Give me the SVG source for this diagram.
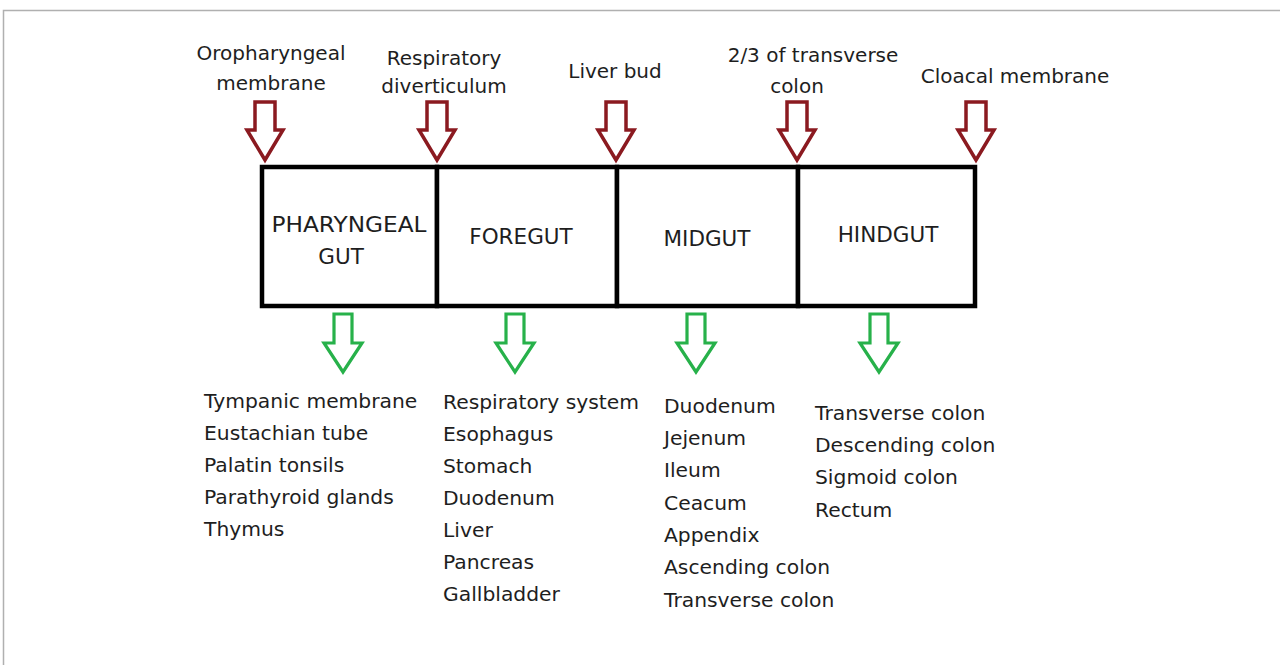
<svg xmlns="http://www.w3.org/2000/svg" width="1280" height="665" viewBox="0 0 1280 665">
<defs>
<style>
text{font-family:"DejaVu Sans","Liberation Sans",sans-serif;fill:#1e1e1e;}
.lbl{font-size:20.3px;}
.top{font-size:20px;text-anchor:middle;}
.seg{font-size:21.5px;text-anchor:middle;}
.box{fill:#fff;stroke:#000;stroke-width:4.5;}
.red{fill:#fff;stroke:#8b1a20;stroke-width:3.5;stroke-linejoin:miter;}
.green{fill:#fff;stroke:#27b14a;stroke-width:3.2;stroke-linejoin:miter;}
</style>
<path id="ra" d="M -10,0 H 10 V 28 H 18 L 0,58 L -18,28 H -10 Z"/>
<path id="ga" d="M -9,0 H 9 V 29 H 19 L 0,58 L -19,29 H -9 Z"/>
</defs>
<rect width="1280" height="665" fill="#fff"/>
<path d="M 3.5,665 V 10.5 H 1280" fill="none" stroke="#b0b0b0" stroke-width="1.5"/>

<g id="connectors">
<use href="#ra" class="red" transform="translate(265,102)"/>
<use href="#ra" class="red" transform="translate(437,102)"/>
<use href="#ra" class="red" transform="translate(616,102)"/>
<use href="#ra" class="red" transform="translate(797,102)"/>
<use href="#ra" class="red" transform="translate(976,102)"/>
<use href="#ga" class="green" transform="translate(343,314)"/>
<use href="#ga" class="green" transform="translate(515,314)"/>
<use href="#ga" class="green" transform="translate(696,314)"/>
<use href="#ga" class="green" transform="translate(879,314)"/>
</g>

<g id="node-pharyngeal">
<rect class="box" x="262" y="167" width="175" height="139"/>
<text class="seg" x="349" y="232" textLength="155" lengthAdjust="spacingAndGlyphs">PHARYNGEAL</text>
<text class="seg" x="341" y="264">GUT</text>
</g>
<g id="node-foregut">
<rect class="box" x="437" y="167" width="180" height="139"/>
<text class="seg" x="521" y="244">FOREGUT</text>
</g>
<g id="node-midgut">
<rect class="box" x="617" y="167" width="181" height="139"/>
<text class="seg" x="707" y="246">MIDGUT</text>
</g>
<g id="node-hindgut">
<rect class="box" x="798" y="167" width="177" height="139"/>
<text class="seg" x="888" y="242">HINDGUT</text>
</g>

<g id="label-oropharyngeal">
<text class="top" x="271" y="60">Oropharyngeal</text>
<text class="top" x="271" y="90">membrane</text>
</g>
<g id="label-respiratory">
<text class="top" x="444" y="65">Respiratory</text>
<text class="top" x="444" y="93">diverticulum</text>
</g>
<g id="label-liver">
<text class="top" x="615" y="78">Liver bud</text>
</g>
<g id="label-transverse">
<text class="top" x="813" y="62">2/3 of transverse</text>
<text class="top" x="797" y="93">colon</text>
</g>
<g id="label-cloacal">
<text class="top" x="1015" y="83">Cloacal membrane</text>
</g>

<g id="list-pharyngeal" class="lbl">
<text x="204" y="408">Tympanic membrane</text>
<text x="204" y="440">Eustachian tube</text>
<text x="204" y="472">Palatin tonsils</text>
<text x="204" y="504">Parathyroid glands</text>
<text x="204" y="536">Thymus</text>
</g>
<g id="list-foregut" class="lbl">
<text x="443" y="409">Respiratory system</text>
<text x="443" y="441">Esophagus</text>
<text x="443" y="473">Stomach</text>
<text x="443" y="505">Duodenum</text>
<text x="443" y="537">Liver</text>
<text x="443" y="569">Pancreas</text>
<text x="443" y="601">Gallbladder</text>
</g>
<g id="list-midgut" class="lbl">
<text x="664" y="413">Duodenum</text>
<text x="664" y="445">Jejenum</text>
<text x="664" y="477">Ileum</text>
<text x="664" y="510">Ceacum</text>
<text x="664" y="542">Appendix</text>
<text x="664" y="574">Ascending colon</text>
<text x="664" y="607">Transverse colon</text>
</g>
<g id="list-hindgut" class="lbl">
<text x="815" y="420">Transverse colon</text>
<text x="815" y="452">Descending colon</text>
<text x="815" y="484">Sigmoid colon</text>
<text x="815" y="517">Rectum</text>
</g>
</svg>
